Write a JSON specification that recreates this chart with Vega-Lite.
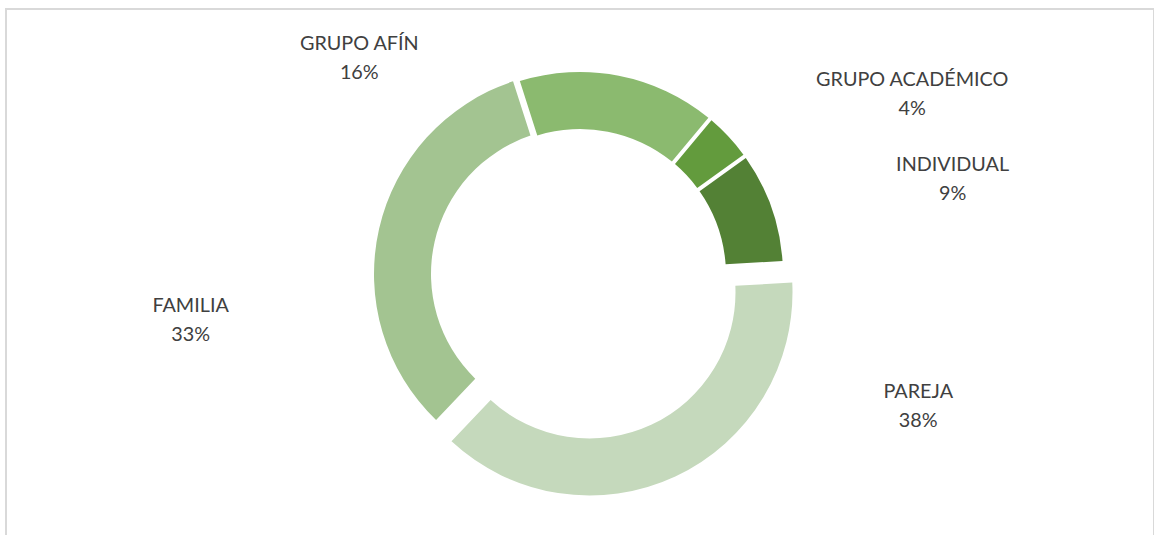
{
  "$schema": "https://vega.github.io/schema/vega-lite/v6.json",
  "width": 1148,
  "height": 532,
  "autosize": {"type": "none"},
  "padding": {"left": 6, "top": 9, "right": 0, "bottom": 0},
  "background": "white",
  "view": {"stroke": "#D9D9D9", "strokeWidth": 2, "fill": "white"},
  "config": {
    "view": {"stroke": "#D9D9D9", "strokeWidth": 2},
    "text": {"font": "Lato", "fontSize": 19.8, "fill": "#404040", "align": "center", "baseline": "alphabetic"}
  },
  "data": {
    "values": [
      {"categoria": "GRUPO AFÍN", "valor": 0.16, "orden": 1},
      {"categoria": "GRUPO ACADÉMICO", "valor": 0.04, "orden": 2},
      {"categoria": "INDIVIDUAL", "valor": 0.09, "orden": 3},
      {"categoria": "PAREJA", "valor": 0.38, "orden": 4},
      {"categoria": "FAMILIA", "valor": 0.33, "orden": 5}
    ]
  },
  "encoding": {
    "theta": {"field": "valor", "type": "quantitative", "stack": true, "scale": {"domain": [0, 1], "range": [-0.3107, 5.9725]}},
    "order": {"field": "orden", "type": "quantitative"}
  },
  "layer": [
    {
      "mark": {"type": "arc", "radius": 203, "radius2": 146, "padAngle": 0.016},
      "encoding": {
        "color": {"field": "categoria", "type": "nominal", "legend": null,
          "scale": {"domain": ["GRUPO AFÍN", "GRUPO ACADÉMICO", "INDIVIDUAL", "PAREJA", "FAMILIA"],
                    "range": ["#8BBA6F", "#639B3D", "#538135", "#C5D9BC", "#A3C491"]}},
        "opacity": {"condition": {"test": "datum.orden >= 4", "value": 0}, "value": 1}
      }
    },
    {
      "mark": {"type": "arc", "radius": 203, "radius2": 146, "padAngle": 0.016, "xOffset": 9.5, "yOffset": 17.5},
      "encoding": {
        "color": {"field": "categoria", "type": "nominal", "legend": null},
        "opacity": {"condition": {"test": "datum.orden === 4", "value": 1}, "value": 0}
      }
    },
    {
      "mark": {"type": "arc", "radius": 203, "radius2": 146, "padAngle": 0.016, "xOffset": -3, "yOffset": -1},
      "encoding": {
        "color": {"field": "categoria", "type": "nominal", "legend": null},
        "opacity": {"condition": {"test": "datum.orden === 5", "value": 1}, "value": 0}
      }
    },
    {
      "mark": {"type": "text", "radius": 174.5, "dx": -254, "dy": -54.2},
      "encoding": {"detail": {"field": "categoria"}, "text": {"condition": {"test": "datum.orden === 1", "field": "categoria"}, "value": ""}}
    },
    {
      "mark": {"type": "text", "radius": 174.5, "dx": -254, "dy": -24.7},
      "encoding": {"detail": {"field": "categoria"}, "text": {"condition": {"test": "datum.orden === 1", "field": "valor", "type": "quantitative", "format": ".0%"}, "value": ""}}
    },
    {
      "mark": {"type": "text", "radius": 174.5, "dx": 204.6, "dy": -69.5},
      "encoding": {"detail": {"field": "categoria"}, "text": {"condition": {"test": "datum.orden === 2", "field": "categoria"}, "value": ""}}
    },
    {
      "mark": {"type": "text", "radius": 174.5, "dx": 204.6, "dy": -40.5},
      "encoding": {"detail": {"field": "categoria"}, "text": {"condition": {"test": "datum.orden === 2", "field": "valor", "type": "quantitative", "format": ".0%"}, "value": ""}}
    },
    {
      "mark": {"type": "text", "radius": 174.5, "dx": 208.2, "dy": -45},
      "encoding": {"detail": {"field": "categoria"}, "text": {"condition": {"test": "datum.orden === 3", "field": "categoria"}, "value": ""}}
    },
    {
      "mark": {"type": "text", "radius": 174.5, "dx": 208.2, "dy": -16},
      "encoding": {"detail": {"field": "categoria"}, "text": {"condition": {"test": "datum.orden === 3", "field": "valor", "type": "quantitative", "format": ".0%"}, "value": ""}}
    },
    {
      "mark": {"type": "text", "radius": 174.5, "dx": 264.5, "dy": -35.6},
      "encoding": {"detail": {"field": "categoria"}, "text": {"condition": {"test": "datum.orden === 4", "field": "categoria"}, "value": ""}}
    },
    {
      "mark": {"type": "text", "radius": 174.5, "dx": 264.5, "dy": -6.6},
      "encoding": {"detail": {"field": "categoria"}, "text": {"condition": {"test": "datum.orden === 4", "field": "valor", "type": "quantitative", "format": ".0%"}, "value": ""}}
    },
    {
      "mark": {"type": "text", "radius": 174.5, "dx": -219.2, "dy": 75.2},
      "encoding": {"detail": {"field": "categoria"}, "text": {"condition": {"test": "datum.orden === 5", "field": "categoria"}, "value": ""}}
    },
    {
      "mark": {"type": "text", "radius": 174.5, "dx": -219.2, "dy": 104.2},
      "encoding": {"detail": {"field": "categoria"}, "text": {"condition": {"test": "datum.orden === 5", "field": "valor", "type": "quantitative", "format": ".0%"}, "value": ""}}
    }
  ]
}
